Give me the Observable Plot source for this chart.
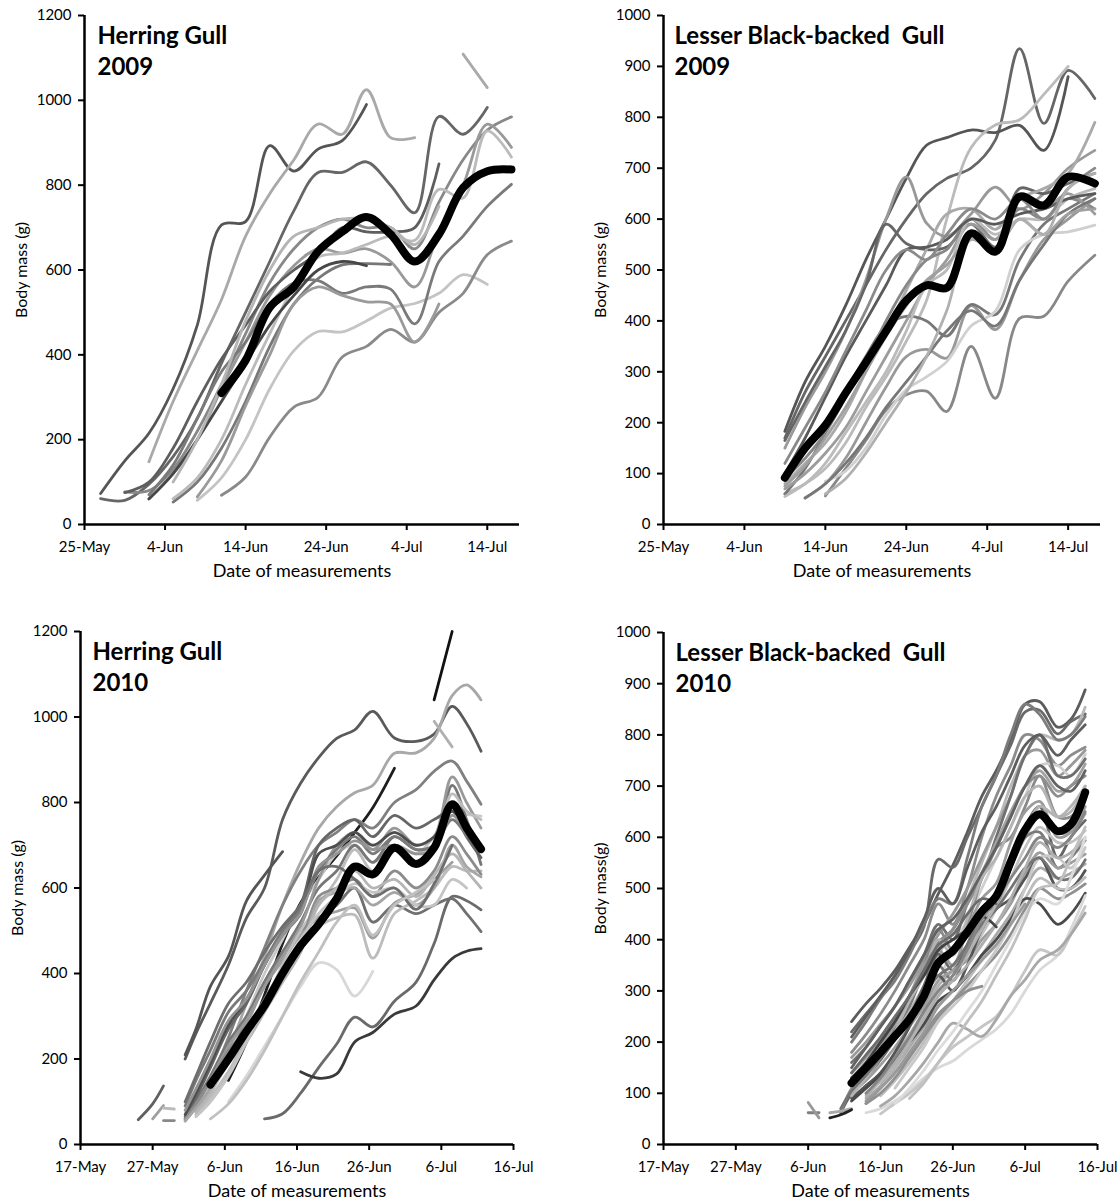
<!DOCTYPE html>
<html><head><meta charset="utf-8">
<script src="https://cdn.jsdelivr.net/npm/d3@7"></script>
<script src="https://cdn.jsdelivr.net/npm/@observablehq/plot@0.6"></script>
<style>
body{margin:0;background:#fff;}
#chart{position:relative;width:1118px;height:1202px;background:#fff;}
.cell{position:absolute;}
</style></head><body><div id="chart"></div>
<script>
const _ = null;

// ---------- tick labels ----------
const xTicks2009 = ["2009-05-25","2009-06-04","2009-06-14","2009-06-24","2009-07-04","2009-07-14"];
const xTicks2010 = ["2010-05-17","2010-05-27","2010-06-06","2010-06-16","2010-06-26","2010-07-06","2010-07-16"];
const yTicksHG = [0,200,400,600,800,1000,1200];
const yTicksLB = [0,100,200,300,400,500,600,700,800,900,1000];

// ---------- Herring Gull 2009 (days after 25 May) ----------
const hg09Days = [2,5,8,11,14,17,20,23,26,29,32,35,38,41,44,47,50,53];
const hg09Mean = [_,_,_,_,_,310,387,512,560,644,690,725,684,620,684,794,833,837];
const hg09Lines = [
  [73,150,215,320,470,706,714,893,833,885,905,990,_,_,_,_,_,_],
  [_,_,148,290,410,530,680,780,860,944,920,1025,912,912,_,_,_,_],
  [61,57,95,160,250,380,500,620,740,830,830,855,800,735,962,920,983,_],
  [_,_,_,_,_,_,_,_,_,_,_,_,_,_,_,1109,1030,_],
  [_,77,80,130,220,330,450,570,650,700,720,700,700,650,760,860,930,961],
  [_,_,61,120,200,320,430,540,610,650,640,650,620,560,690,800,944,889],
  [_,_,_,61,110,200,330,450,560,630,640,660,680,670,790,770,928,866],
  [_,_,_,53,100,180,290,420,520,580,612,615,613,_,_,_,_,_],
  [_,_,_,_,57,110,200,320,410,455,454,480,510,521,545,589,566,_],
  [_,_,_,_,_,69,112,206,277,300,395,420,460,430,500,545,636,668],
  [_,75,100,180,290,390,470,550,600,640,700,690,690,700,850,_,_,_],
  [_,_,70,140,250,360,430,520,570,575,545,560,555,473,620,680,750,802],
  [_,_,_,_,65,150,280,400,520,560,540,525,520,430,520,_,_,_],
  [_,_,60,120,200,290,380,470,540,600,620,610,_,_,_,_,_,_],
  [_,_,_,100,200,330,480,600,680,700,720,720,700,660,750,_,_,_]
];
const hg09Shades = ["#555","#a9a9a9","#666","#aaa","#888","#999","#bbb","#777","#c4c4c4","#8a8a8a","#5e5e5e","#7a7a7a","#9a9a9a","#474747","#b5b5b5"];

// ---------- Lesser Black-backed Gull 2009 (days after 25 May) ----------
const lb09Days = [15,17.5,20,22.5,25,27.5,30,32.5,35,38,41,44,47,50,53.3];
const lb09Mean = [92,150,195,258,318,380,440,470,465,572,536,644,627,683,670];
const lb09Lines = [
  [170,260,330,400,470,540,600,650,680,700,755,935,788,892,837],
  [183,280,350,430,520,600,680,745,760,775,770,784,735,880,_],
  [60,80,110,160,230,290,360,440,600,740,785,795,845,900,_],
  [_,_,56,110,165,225,255,262,222,350,248,405,409,478,529],
  [_,52,80,130,200,270,330,344,327,430,383,480,560,600,640],
  [60,110,180,260,330,390,409,400,370,432,412,520,590,620,650],
  [150,230,300,380,480,600,683,592,566,610,663,620,650,700,735],
  [165,240,310,380,470,590,552,540,545,590,545,660,650,670,690],
  [80,120,160,220,300,380,460,540,610,620,580,640,660,690,790],
  [90,130,180,250,320,400,470,520,540,600,560,620,600,640,620],
  [70,100,140,190,260,330,400,470,520,590,560,640,620,650,610],
  [55,80,120,180,240,300,380,470,500,600,570,600,600,640,660],
  [_,_,85,105,150,215,265,290,320,390,419,540,570,575,588],
  [_,52,80,120,170,230,280,330,380,420,390,480,550,610,640],
  [100,170,250,330,400,470,540,545,560,600,590,610,620,640,650],
  [75,115,170,230,300,370,430,480,510,560,540,600,570,610,620],
  [120,190,260,340,420,500,540,520,570,620,600,640,600,660,700],
  [_,_,60,90,140,200,260,330,420,560,540,600,570,660,690]
];
const lb09Shades = ["#666","#555","#bbb","#888","#999","#777","#999","#666","#aaa","#888","#9c9c9c","#bbb","#d0d0d0","#777","#5a5a5a","#a0a0a0","#8a8a8a","#b0b0b0"];

// ---------- Herring Gull 2010 (days after 17 May) ----------
const hg10Days = [8,10,11.5,13,14.5,16,18,20.5,23,25.5,28,30.5,33,35.5,38,40.5,43.5,46.5,49,51.5,53.5,55.5];
const hg10Mean = [_,_,_,_,_,_,140,200,265,325,400,465,515,575,650,632,694,656,694,796,741,691];
const hg10Lines = [
  [_,_,_,_,200,260,330,420,530,600,760,845,905,950,970,1013,951,943,960,1025,985,920],
  [_,_,_,_,_,_,_,_,_,_,_,_,_,_,_,_,_,_,1040,1200,_,_],
  [_,_,_,_,_,_,_,150,240,350,470,565,625,675,730,788,880,_,_,_,_,_],
  [_,_,_,_,_,90,140,220,330,440,560,660,740,790,823,840,915,916,950,1050,1075,1040],
  [_,_,_,_,_,_,_,_,_,_,_,_,_,_,_,_,_,_,990,930,_,_],
  [_,_,_,_,_,_,150,250,360,460,560,640,700,730,760,740,800,830,873,897,850,796],
  [_,_,_,_,_,90,140,210,300,400,480,560,620,680,700,660,700,680,720,780,772,768],
  [_,_,_,_,_,_,_,_,_,60,72,120,180,235,298,275,335,380,470,580,570,549],
  [_,_,_,_,_,80,130,200,290,380,450,500,530,560,600,520,560,540,560,575,540,498],
  [_,_,_,_,_,_,_,_,_,_,_,170,155,165,240,262,305,324,385,435,452,458],
  [_,_,_,_,_,_,_,100,160,230,300,370,425,409,347,405,_,_,_,_,_,_],
  [_,_,_,_,_,80,130,200,280,370,430,490,530,545,553,483,565,585,620,660,_,_],
  [_,_,_,_,_,70,110,170,240,320,400,460,510,530,537,436,540,570,600,650,640,640],
  [58,95,137,_,_,_,_,_,_,_,_,_,_,_,_,_,_,_,_,_,_,_],
  [_,60,91,_,_,_,_,_,_,_,_,_,_,_,_,_,_,_,_,_,_,_],
  [_,_,56,56,_,_,_,_,_,_,_,_,_,_,_,_,_,_,_,_,_,_],
  [_,_,85,83,_,_,_,_,_,_,_,_,_,_,_,_,_,_,_,_,_,_],
  [_,_,_,_,210,270,370,440,570,630,685,_,_,_,_,_,_,_,_,_,_,_],
  [_,_,_,_,60,100,160,240,300,380,450,520,600,640,700,660,720,690,700,840,760,655],
  [_,_,_,_,55,90,150,230,290,370,440,510,620,700,730,690,740,700,720,860,800,740],
  [_,_,_,_,_,70,110,170,250,330,420,500,560,620,690,640,700,680,700,820,780,760],
  [_,_,_,_,65,110,180,270,330,420,500,560,700,740,760,720,770,740,760,780,720,671],
  [_,_,_,_,60,95,150,220,270,340,410,470,580,600,620,580,640,600,640,720,680,632],
  [_,_,_,_,55,85,130,200,250,320,390,450,570,590,600,560,590,560,600,700,650,626],
  [_,_,_,_,70,120,190,280,340,420,490,540,680,700,730,700,730,700,720,780,740,_],
  [_,_,_,_,_,75,120,190,240,310,380,450,560,600,640,600,620,580,630,680,640,600],
  [_,_,_,_,90,150,220,310,360,430,500,550,640,690,720,680,720,690,700,760,720,_],
  [_,_,_,_,80,130,200,290,340,420,490,540,650,680,710,690,700,680,690,770,730,_],
  [_,_,_,_,_,65,100,160,240,330,410,480,540,580,610,590,600,560,560,620,600,_],
  [_,_,_,_,100,160,240,330,380,450,510,560,640,650,620,580,600,550,610,700,_,_],
  [_,_,_,_,_,_,60,95,150,220,300,380,450,520,560,490,560,590,620,_,_,_]
];
const hg10Shades = ["#5a5a5a","#111","#1e1e1e","#a8a8a8","#b0b0b0","#808080","#c8c8c8","#6a6a6a","#707070","#3a3a3a","#d8d8d8","#a0a0a0","#bcbcbc","#606060","#a0a0a0","#888","#bbb","#555","#777","#999","#bdbdbd","#666","#8c8c8c","#a5a5a5","#4d4d4d","#b5b5b5","#7a7a7a","#949494","#c4c4c4","#6e6e6e","#c0c0c0"];

// ---------- Lesser Black-backed Gull 2010 (days after 17 May) ----------
const lb10Days = [20,21.5,23,24.5,26,28,30,32,34,36,38,40,42,44,46,48,50,52,54.5,56.3,58.3];
const lb10Mean = [_,_,_,_,120,150,180,212,245,290,355,378,415,455,485,552,615,645,612,625,688];
const lb10Lines = [
  [_,_,_,_,240,275,305,340,385,430,490,545,610,680,730,790,860,865,815,830,888],
  [_,_,_,_,220,255,290,330,375,425,557,541,600,660,720,780,845,848,802,826,841],
  [_,_,_,_,_,130,170,215,260,310,370,420,480,550,620,700,760,800,790,800,854],
  [_,_,_,_,200,240,285,320,370,430,480,470,560,660,720,800,860,840,790,800,836],
  [_,_,_,_,180,215,255,300,350,400,470,430,500,600,680,740,800,790,740,760,776],
  [_,_,_,_,170,200,235,270,310,360,410,450,500,560,620,680,760,770,720,740,770],
  [_,_,_,_,_,_,120,160,210,260,320,380,440,500,560,620,680,740,740,720,762],
  [_,_,_,_,160,190,230,270,320,370,430,400,470,520,600,680,760,800,720,720,753],
  [_,_,_,_,140,170,205,240,285,330,380,420,470,530,590,650,700,730,690,700,743],
  [_,_,_,_,130,160,200,240,290,350,420,380,430,520,580,600,660,720,640,640,678],
  [_,_,_,_,_,110,140,175,215,260,310,340,380,430,480,540,600,640,610,610,646],
  [_,_,_,62,100,130,165,205,250,310,372,340,390,450,470,540,620,660,560,600,633],
  [_,_,_,_,_,100,125,160,200,240,290,330,370,410,460,520,580,620,590,590,613],
  [_,_,_,_,120,150,185,225,270,330,350,320,390,450,470,540,600,610,540,560,594],
  [_,_,_,_,100,125,155,190,230,270,320,340,360,400,430,470,530,570,540,550,567],
  [_,_,_,_,_,90,115,150,190,230,270,300,330,370,410,450,500,540,520,530,548],
  [_,_,_,_,90,115,140,180,230,290,330,300,350,420,460,480,520,560,500,500,535],
  [_,_,_,_,_,_,95,125,160,200,245,280,320,360,400,440,480,520,500,500,522],
  [_,_,_,_,_,80,100,130,170,210,250,280,310,340,370,410,460,500,480,490,509],
  [_,_,_,_,85,110,135,165,200,235,280,300,330,370,400,440,480,470,430,450,491],
  [_,_,_,_,_,62,70,85,105,130,150,163,185,205,225,255,300,340,370,420,486],
  [_,_,_,_,_,_,60,80,100,125,160,190,210,230,250,290,340,380,370,410,465],
  [_,_,_,_,_,_,75,95,125,160,200,237,225,211,244,290,322,360,380,410,452],
  [_,_,_,65,110,150,190,240,290,340,395,420,470,520,580,640,700,720,680,700,720],
  [_,_,_,_,95,130,170,220,280,330,400,370,440,520,560,620,680,700,640,660,700],
  [_,_,_,_,150,190,230,270,320,370,420,440,480,530,580,640,700,740,700,690,730],
  [_,_,_,_,_,_,_,110,150,190,240,270,300,340,380,430,500,560,560,540,580],
  [_,_,_,_,110,140,185,235,290,350,380,350,420,480,510,590,650,670,600,610,660],
  [_,_,_,70,105,135,170,205,245,290,330,350,390,430,460,500,540,560,520,520,556],
  [_,_,_,_,_,95,125,160,200,245,290,320,350,390,430,480,540,590,560,570,600],
  [_,_,_,_,_,_,_,80,110,145,185,220,260,300,350,400,450,480,470,520,600],
  [_,_,_,_,_,80,110,140,175,215,255,280,300,309,_,_,_,_,_,_,_],
  [_,_,_,_,130,160,200,240,290,330,380,400,420,445,425,_,_,_,_,_,_],
  [62,62,_,_,_,_,_,_,_,_,_,_,_,_,_,_,_,_,_,_,_],
  [82,52,_,_,_,_,_,_,_,_,_,_,_,_,_,_,_,_,_,_,_],
  [_,_,62,65,70,_,_,_,_,_,_,_,_,_,_,_,_,_,_,_,_],
  [_,_,52,58,68,_,_,_,_,_,_,_,_,_,_,_,_,_,_,_,_],
  [_,_,_,_,210,250,290,330,380,440,500,470,540,610,660,720,780,800,760,790,820],
  [_,_,_,_,_,_,110,150,200,250,300,330,370,420,470,540,610,660,640,650,700],
  [_,_,_,_,_,100,130,170,210,260,300,330,380,440,480,520,560,600,580,600,650],
  [_,_,_,_,_,_,_,_,90,120,160,200,240,280,330,380,440,500,510,560,620],
  [_,_,_,_,140,175,210,250,290,340,390,410,450,480,470,_,_,_,_,_,_],
  [_,_,_,_,_,85,110,140,180,220,270,300,330,360,390,430,470,_,_,_,_]
];
const lb10Shades = ["#5c5c5c","#6a6a6a","#b8b8b8","#7c7c7c","#8c8c8c","#9a9a9a","#cfcfcf","#707070","#a2a2a2","#8a8a8a","#b0b0b0","#666","#c2c2c2","#7a7a7a","#9e9e9e","#aaa","#555","#bdbdbd","#909090","#4a4a4a","#d9d9d9","#c6c6c6","#a8a8a8","#8e8e8e","#b4b4b4","#626262","#c8c8c8","#9c9c9c","#747474","#aeaeae","#dcdcdc","#909090","#444","#808080","#999","#aaa","#222","#5e5e5e","#b2b2b2","#858585","#c0c0c0","#6c6c6c","#9a9a9a"];

// ---------- drawing ----------
const FONT = "Lato, 'Open Sans', sans-serif";
const fmt = d3.utcFormat("%-d-%b");

function panel(cfg) {
  const t0 = new Date(cfg.base + "T00:00Z").getTime();
  const at = d => new Date(t0 + d * 864e5);
  const pts = [];
  cfg.lines.forEach((vals, i) => vals.forEach((v, j) => {
    if (v != null) pts.push({id: i, date: at(cfg.days[j]), mass: v, shade: cfg.shades[i]});
  }));
  const mean = [];
  cfg.mean.forEach((v, j) => { if (v != null) mean.push({date: at(cfg.days[j]), mass: v}); });
  const xd = [at(0), at(cfg.span)];
  return Plot.plot({
    width: cfg.w, height: cfg.h,
    marginLeft: cfg.ml, marginRight: cfg.mr, marginTop: cfg.mt, marginBottom: cfg.mb,
    style: {fontFamily: FONT, fontSize: "15px", color: "#000", background: "transparent", overflow: "visible"},
    x: {type: "utc", domain: xd},
    y: {domain: [0, cfg.ymax]},
    color: {type: "identity"},
    marks: [
      Plot.line(pts, {x: "date", y: "mass", z: "id", stroke: "shade", strokeWidth: 2.8, curve: "catmull-rom", strokeLinecap: "round", strokeLinejoin: "round"}),
      Plot.line(mean, {x: "date", y: "mass", stroke: "#000", strokeWidth: 8, curve: "catmull-rom", strokeLinecap: "round", strokeLinejoin: "round"}),
      Plot.ruleY([0], {stroke: "#000", strokeWidth: 2.5}),
      Plot.ruleX([xd[0]], {stroke: "#000", strokeWidth: 2.5}),
      Plot.axisX({ticks: cfg.xticks.map(s => new Date(s + "T00:00Z")), tickFormat: fmt, tickSize: 6, tickPadding: 11, strokeWidth: 2, label: null, fontSize: 15}),
      Plot.axisY({ticks: cfg.yticks, tickFormat: d => String(d), tickSize: 6, tickPadding: 7, strokeWidth: 2, label: null, fontSize: 15}),
      Plot.text([cfg.title], {text: d => d, frameAnchor: "top-left", dx: cfg.tdx, dy: 6, textAnchor: "start", lineAnchor: "top", fontSize: 24, fontWeight: "bold", lineHeight: 1.3, fill: "#000"}),
      Plot.text([cfg.ylabel], {text: d => d, frameAnchor: "left", dx: -63, rotate: -90, textAnchor: "middle", lineAnchor: "middle", fontSize: 16, fill: "#000"}),
      Plot.text(["Date of measurements"], {text: d => d, frameAnchor: "bottom", dy: 47, textAnchor: "middle", lineAnchor: "middle", fontSize: 18, fill: "#000"})
    ]
  });
}

const cells = [
  {left: 0, top: 0, w: 559, h: 600, ml: 84, mr: 40, mt: 15, mb: 76, base: "2009-05-25", span: 54,
   days: hg09Days, lines: hg09Lines, shades: hg09Shades, mean: hg09Mean, xticks: xTicks2009, yticks: yTicksHG, ymax: 1200,
   title: "Herring Gull\n2009", tdx: 13, ylabel: "Body mass (g)"},
  {left: 559, top: 0, w: 559, h: 600, ml: 104, mr: 18, mt: 15, mb: 76, base: "2009-05-25", span: 54,
   days: lb09Days, lines: lb09Lines, shades: lb09Shades, mean: lb09Mean, xticks: xTicks2009, yticks: yTicksLB, ymax: 1000,
   title: "Lesser Black-backed  Gull\n2009", tdx: 11, ylabel: "Body mass (g)"},
  {left: 0, top: 601, w: 559, h: 601, ml: 80, mr: 46, mt: 30, mb: 58, base: "2010-05-17", span: 60,
   days: hg10Days, lines: hg10Lines, shades: hg10Shades, mean: hg10Mean, xticks: xTicks2010, yticks: yTicksHG, ymax: 1200,
   title: "Herring Gull\n2010", tdx: 12, ylabel: "Body mass (g)"},
  {left: 559, top: 601, w: 559, h: 601, ml: 104, mr: 21, mt: 31, mb: 58, base: "2010-05-17", span: 60,
   days: lb10Days, lines: lb10Lines, shades: lb10Shades, mean: lb10Mean, xticks: xTicks2010, yticks: yTicksLB, ymax: 1000,
   title: "Lesser Black-backed  Gull\n2010", tdx: 12, ylabel: "Body mass(g)"}
];

const root = document.getElementById("chart");
for (const c of cells) {
  const div = document.createElement("div");
  div.className = "cell";
  div.style.left = c.left + "px";
  div.style.top = c.top + "px";
  div.appendChild(panel(c));
  root.appendChild(div);
}
</script></body></html>
